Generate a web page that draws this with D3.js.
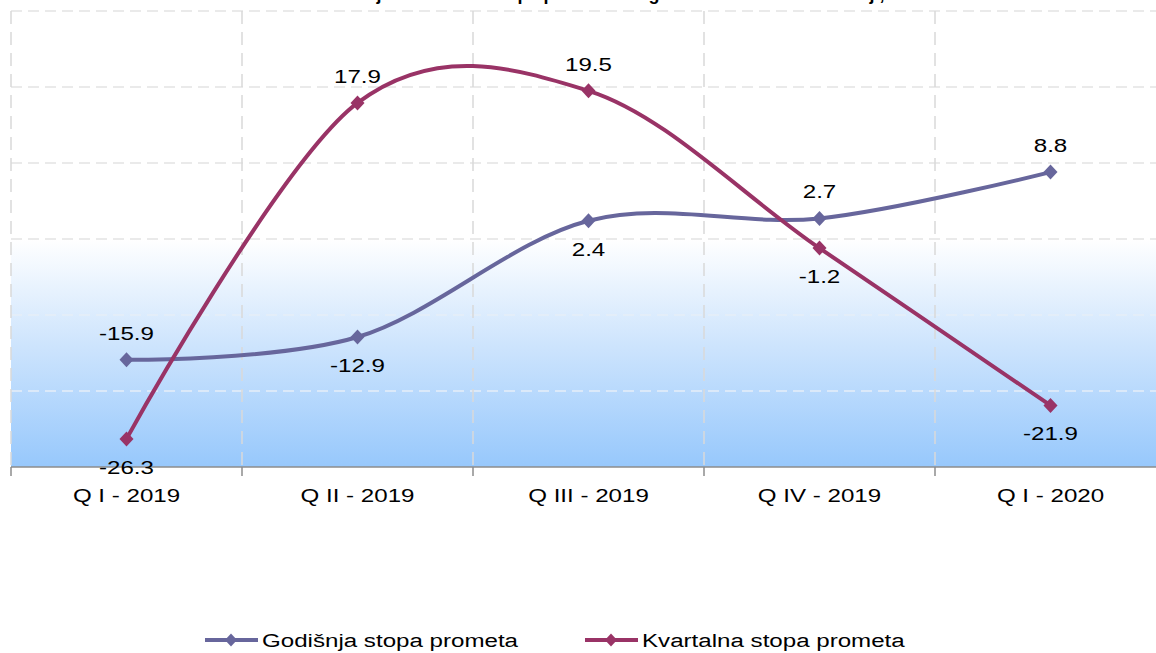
<!DOCTYPE html>
<html>
<head>
<meta charset="utf-8">
<title>Godišnja i kvartalna stopa prometa</title>
<script src="https://cdnjs.cloudflare.com/ajax/libs/d3/7.8.5/d3.min.js"></script>
<style>
  body { margin: 0; background: #fff; overflow: hidden; }
  text { font-family: "Liberation Sans", Arial, sans-serif; fill: #000; }
</style>
</head>
<body>
<script>
var quarters = ["Q I - 2019", "Q II - 2019", "Q III - 2019", "Q IV - 2019", "Q I - 2020"];
var godisnja = [-15.9, -12.9, 2.4, 2.7, 8.8];
var kvartalna = [-26.3, 17.9, 19.5, -1.2, -21.9];
// which side of the marker each data label sits on
var godisnjaSide = ["above", "below", "below", "above", "above"];
var kvartalnaSide = ["below", "above", "above", "below", "below"];
var seriesNames = ["Godišnja stopa prometa", "Kvartalna stopa prometa"];
var yTicks = [-30, -20, -10, 0, 10, 20, 30];
var titleText = "Godišnja i kvartalna stopa prometa u trgovini na malo u Federaciji, %";

var width = 1156, height = 653;
var plotLeft = 11, bandW = 231, plotTop = 11, plotBottom = 467;
var stretch = 1.27; // the source picture is stretched sideways, text too

var colors = { god: "#67669c", kv: "#993366" };

var svg = d3.select("body").append("svg")
  .attr("width", width)
  .attr("height", height);

var x = d3.scaleBand()
  .domain(quarters)
  .range([plotLeft, plotLeft + bandW * quarters.length]);

var y = d3.scaleLinear()
  .domain([d3.min(yTicks), d3.max(yTicks)])
  .range([plotBottom, plotTop]);

function cx(i) { return x(quarters[i]) + x.bandwidth() / 2; }

// blue fade below zero
var grad = svg.append("defs").append("linearGradient")
  .attr("id", "fade").attr("x1", 0).attr("y1", 0).attr("x2", 0).attr("y2", 1);
grad.append("stop").attr("offset", "0%").attr("stop-color", "#ffffff");
grad.append("stop").attr("offset", "45%").attr("stop-color", "#cfe5fd");
grad.append("stop").attr("offset", "100%").attr("stop-color", "#97c8fc");

svg.append("rect")
  .attr("x", plotLeft)
  .attr("y", y(0))
  .attr("width", width - plotLeft)
  .attr("height", y(-30) - y(0))
  .attr("fill", "url(#fade)");

// gridlines
svg.append("g").selectAll("line")
  .data(yTicks.filter(function(d){ return d > -30; }))
  .enter().append("line")
  .attr("x1", plotLeft).attr("x2", width)
  .attr("y1", function(d){ return y(d); })
  .attr("y2", function(d){ return y(d); })
  .attr("stroke", function(d){ return d < 0 ? "#e6eef8" : "#e3e3e3"; })
  .attr("stroke-width", 1.5)
  .attr("stroke-dasharray", "11,6");

var bounds = d3.range(quarters.length + 1).map(function(i){ return plotLeft + i * bandW; });

svg.append("g").selectAll("line")
  .data(bounds)
  .enter().append("line")
  .attr("x1", function(d){ return d; }).attr("x2", function(d){ return d; })
  .attr("y1", plotTop).attr("y2", plotBottom)
  .attr("stroke", "#d9d9d9")
  .attr("stroke-width", 1.5)
  .attr("stroke-dasharray", "13,8");

// x axis
var xAxis = svg.append("g")
  .attr("transform", "translate(0," + plotBottom + ")")
  .call(d3.axisBottom(x).tickSize(0).tickPadding(22));
xAxis.select(".domain").remove();
xAxis.selectAll("text")
  .style("font-size", "19px")
  .attr("fill", "#000")
  .attr("transform", "scale(" + stretch + ",1)");

svg.append("line")
  .attr("x1", plotLeft).attr("x2", width)
  .attr("y1", plotBottom).attr("y2", plotBottom)
  .attr("stroke", "#8c8c8c").attr("stroke-width", 1.5);

svg.append("g").selectAll("line")
  .data(bounds)
  .enter().append("line")
  .attr("x1", function(d){ return d; }).attr("x2", function(d){ return d; })
  .attr("y1", plotBottom).attr("y2", plotBottom + 9)
  .attr("stroke", "#8c8c8c").attr("stroke-width", 1.5);

// series
var line = d3.line()
  .x(function(d, i){ return cx(i); })
  .y(function(d){ return y(d); })
  .curve(d3.curveCardinal.tension(0));

var diamond = "M0,-7.5L7,0L0,7.5L-7,0Z";

function drawSeries(values, sides, color) {
  svg.append("path")
    .datum(values)
    .attr("d", line)
    .attr("fill", "none")
    .attr("stroke", color)
    .attr("stroke-width", 4);

  svg.append("g").selectAll("path")
    .data(values)
    .enter().append("path")
    .attr("d", diamond)
    .attr("transform", function(d, i){ return "translate(" + cx(i) + "," + y(d) + ")"; })
    .attr("fill", color);

  svg.append("g").selectAll("text")
    .data(values)
    .enter().append("text")
    .attr("transform", function(d, i){
      var ty = y(d) + (sides[i] === "above" ? -20 : 35);
      return "translate(" + cx(i) + "," + ty + ") scale(" + stretch + ",1)";
    })
    .attr("text-anchor", "middle")
    .style("font-size", "19px")
    .text(function(d){ return d.toFixed(1); });
}

drawSeries(godisnja, godisnjaSide, colors.god);
drawSeries(kvartalna, kvartalnaSide, colors.kv);

// title, cut off at the top edge in the source picture
svg.append("text")
  .attr("x", 610).attr("y", 0)
  .attr("text-anchor", "middle")
  .style("font-size", "18px")
  .style("font-weight", "bold")
  .text(titleText);

// legend
var legendX = [205, 585];
var legendColors = [colors.god, colors.kv];
var legend = svg.append("g").selectAll("g")
  .data(seriesNames)
  .enter().append("g")
  .attr("transform", function(d, i){ return "translate(" + legendX[i] + ",640)"; });

legend.append("line")
  .attr("x1", 0).attr("x2", 53)
  .attr("stroke", function(d, i){ return legendColors[i]; })
  .attr("stroke-width", 4);
legend.append("path")
  .attr("d", "M0,-6.5L6,0L0,6.5L-6,0Z")
  .attr("transform", "translate(26,0)")
  .attr("fill", function(d, i){ return legendColors[i]; });
legend.append("text")
  .attr("transform", "translate(57,7) scale(" + stretch + ",1)")
  .style("font-size", "19px")
  .text(function(d){ return d; });
</script>
</body>
</html>
